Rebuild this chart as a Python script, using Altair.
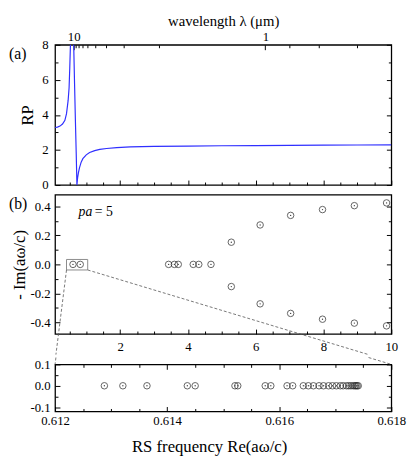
import math
import altair as alt
import pandas as pd

FONT = "'Liberation Serif', 'Times New Roman', serif"
BLUE = "#2f2fff"
TWO_PI = 2 * math.pi

# ---------------- data ----------------
# panel (a): RP versus frequency Re(a w / c), two branches around the resonance
rp_left_f = [0.08, 0.15, 0.225, 0.30, 0.37, 0.418, 0.465, 0.494, 0.514, 0.534, 0.545]
rp_left_v = [3.28, 3.30, 3.36, 3.48, 3.69, 4.07, 4.81, 5.55, 6.67, 8.0, 9.5]
rp_right_f = [0.62, 0.63, 0.655, 0.68, 0.705, 0.725, 0.745, 0.77, 0.80, 0.85, 0.90, 1.0,
              1.1, 1.25, 1.4, 1.6, 1.9, 2.3, 3.0, 4.0, 5.0, 6.0, 7.0, 8.0, 9.0, 10.0]
rp_right_v = [9.5, 8.0, 5.8, 3.7, 1.75, 0.0, 0.40, 0.70, 0.98, 1.30, 1.50, 1.72,
              1.85, 1.96, 2.03, 2.08, 2.13, 2.17, 2.20, 2.22, 2.24, 2.25, 2.26, 2.27, 2.28, 2.29]

# panel (b): resonant states, -Im vs Re
b_re = [0.609, 0.823, 3.43, 3.60, 3.715, 4.157, 4.32, 4.68,
        5.28, 5.28, 6.13, 6.13, 7.03, 7.03, 7.97, 7.97, 8.91, 8.91, 9.86, 9.86]
b_im = [0, 0, 0, 0, 0, 0, 0, 0,
        0.153, -0.153, 0.272, -0.272, 0.338, -0.338, 0.378, -0.378, 0.405, -0.405, 0.424, -0.424]

# inset: zoom of the states close to the resonance
c_re = [0.61288, 0.61321, 0.61364, 0.61436, 0.61450, 0.61521, 0.61526, 0.61575, 0.61585,
        0.61614, 0.61624, 0.61643, 0.61652, 0.61661, 0.61671, 0.61679, 0.61688, 0.61695,
        0.61702, 0.61709, 0.61714, 0.61720, 0.61724, 0.61728, 0.61732, 0.61735, 0.61737,
        0.61739, 0.61741]
c_im = [0.0] * len(c_re)

# tick labels / tick positions
xa_major = [2, 4, 6, 8, 10]
xa_minor = [0.5, 1, 1.5, 2.5, 3, 3.5, 4.5, 5, 5.5, 6.5, 7, 7.5, 8.5, 9, 9.5]
ya_major = [0, 2, 4, 6, 8]
ya_minor = [1, 3, 5, 7]
lam_major = [10, 1]          # wavelength (um), a = 1 um  ->  Re(a w / c) = 2 pi / lambda
lam_minor = [9, 8, 7, 6, 5, 4, 3, 2, 0.9, 0.8, 0.7]
yb_major = [-0.4, -0.2, 0.0, 0.2, 0.4]
yb_minor = [-0.3, -0.1, 0.1, 0.3]
xc_major = [0.612, 0.614, 0.616, 0.618]
xc_minor = [0.6125, 0.613, 0.6135, 0.6145, 0.615, 0.6155, 0.6165, 0.617, 0.6175]
yc_major = [-0.1, 0.0, 0.1]
yc_minor = [-0.05, 0.05]

# box drawn round the first states in (b)
BOX_X0, BOX_X1, BOX_Y0, BOX_Y1 = 0.418, 1.043, -0.0385, 0.034

# ---------------- layout ----------------
W = 343
HA, HB, HC = 143, 142, 48
GAP_BC = 28
STUB = 7
F_MIN, F_MAX = 0.08, 10.0
YA_MIN, YA_MAX = 0.0, 8.0
YB_MIN, YB_MAX = -0.48, 0.48
FC_MIN, FC_MAX = 0.612, 0.618
YC_MIN, YC_MAX = -0.12, 0.10
TAG_DX, TAG_DY = -47, 9
MAJ, MIN = 5, 3

NEG_EXPR = "datum.value < 0 ? '-' + format(-datum.value, '.1f') : format(datum.value, '.1f')"


def tick_axis(orient, offset, values, size):
    return alt.Axis(
        orient=orient, offset=offset, values=values,
        labels=False, domain=False, grid=False, title=None,
        ticks=True, tickColor="black", tickWidth=1, tickSize=size,
    )


def label_axis(orient, values, title=None, label_expr=None, fmt=None, pad=6, title_pad=4,
               title_size=17, **extra):
    kw = dict(orient=orient, values=values, ticks=False, domain=False, grid=False,
              labelPadding=pad, labelFlush=False, labelOverlap=False,
              labelFont=FONT, labelFontSize=13, labelColor="black",
              titleFont=FONT, titleFontSize=title_size, titleFontWeight="normal",
              titleColor="black", titlePadding=title_pad, title=title)
    if label_expr is not None:
        kw["labelExpr"] = label_expr
    if fmt is not None:
        kw["format"] = fmt
    kw.update(extra)
    return alt.Axis(**kw)


def ghost_x(values, sx, sy, ymid, axis):
    df = pd.DataFrame({"t": values, "m": [ymid] * len(values)})
    return alt.Chart(df).mark_point(opacity=0, clip=True).encode(
        x=alt.X("t:Q", scale=sx, axis=axis), y=alt.Y("m:Q", scale=sy, axis=None))


def ghost_y(values, sx, sy, xmid, axis):
    df = pd.DataFrame({"t": values, "m": [xmid] * len(values)})
    return alt.Chart(df).mark_point(opacity=0, clip=True).encode(
        y=alt.Y("t:Q", scale=sy, axis=axis), x=alt.X("m:Q", scale=sx, axis=None))


def inward_x(major, minor, sx, sy, ymid, side, h):
    # side "bottom": ticks rise from the bottom edge; side "top": ticks hang from the top edge
    orient = "top" if side == "bottom" else "bottom"
    return [ghost_x(major, sx, sy, ymid, tick_axis(orient, -h, major, MAJ)),
            ghost_x(minor, sx, sy, ymid, tick_axis(orient, -h, minor, MIN))]


def inward_y(major, minor, sx, sy, xmid, side):
    orient = "right" if side == "left" else "left"
    return [ghost_y(major, sx, sy, xmid, tick_axis(orient, -W, major, MAJ)),
            ghost_y(minor, sx, sy, xmid, tick_axis(orient, -W, minor, MIN))]


def tag(text, sx, sy, x0, x1, y0, y1, h):
    # panel letter placed outside the plot, at a fixed pixel offset from its top-left corner
    tx = x0 + TAG_DX / W * (x1 - x0)
    ty = y1 - TAG_DY / h * (y1 - y0)
    return alt.Chart(pd.DataFrame({"x": [tx], "y": [ty], "t": [text]})).mark_text(
        font=FONT, fontSize=16, align="left", baseline="middle", color="black").encode(
        x=alt.X("x:Q", scale=sx, axis=None), y=alt.Y("y:Q", scale=sy, axis=None), text="t:N")


# ---------------- panel (a) ----------------
dfA = pd.DataFrame({
    "f": rp_left_f + rp_right_f,
    "rp": rp_left_v + rp_right_v,
    "branch": ["L"] * len(rp_left_f) + ["R"] * len(rp_right_f),
})
sc_fa = alt.Scale(domain=[F_MIN, F_MAX], nice=False, zero=False)
sc_rp = alt.Scale(domain=[YA_MIN, YA_MAX], nice=False, zero=False)

lam_major_pos = [TWO_PI / v for v in lam_major]
lam_minor_pos = [TWO_PI / v for v in lam_minor]
LAM_LABEL = "format(round(2 * PI / datum.value), 'd')"

a_line = alt.Chart(dfA).mark_line(color=BLUE, strokeWidth=1.2, clip=True).encode(
    x=alt.X("f:Q", scale=sc_fa, axis=None),
    y=alt.Y("rp:Q", scale=sc_rp, axis=label_axis("left", ya_major, title="RP", pad=7, title_pad=6)),
    detail="branch:N",
)
a_lam_lab = ghost_x(lam_major_pos, sc_fa, sc_rp, 4.0,
                    label_axis("top", lam_major_pos, title="wavelength  λ (μm)",
                               label_expr=LAM_LABEL, pad=1, title_pad=3, title_size=15))
a_tag = tag("(a)", sc_fa, sc_rp, F_MIN, F_MAX, YA_MIN, YA_MAX, HA)

a_layers = ([a_line, a_lam_lab]
            + inward_x(xa_major, xa_minor, sc_fa, sc_rp, 4.0, "bottom", HA)
            + inward_x(lam_major_pos, lam_minor_pos, sc_fa, sc_rp, 4.0, "top", HA)
            + inward_y(ya_major, ya_minor, sc_fa, sc_rp, 5.0, "left")
            + inward_y(ya_major, ya_minor, sc_fa, sc_rp, 5.0, "right")
            + [a_tag])
panel_a = alt.layer(*a_layers).resolve_axis(
    x="independent", y="independent").properties(width=W, height=HA)

# ---------------- panel (b) ----------------
dfB = pd.DataFrame({"re": b_re, "im": b_im})
sc_fb = alt.Scale(domain=[F_MIN, F_MAX], nice=False, zero=False)
sc_im = alt.Scale(domain=[YB_MIN, YB_MAX], nice=False, zero=False)

b_pts = alt.Chart(dfB).mark_point(shape="circle", size=44, filled=False, color="#222",
                                  strokeWidth=1).encode(
    x=alt.X("re:Q", scale=sc_fb, axis=label_axis("bottom", xa_major, pad=7)),
    y=alt.Y("im:Q", scale=sc_im,
            axis=label_axis("left", yb_major, title="- Im(aω/c)", label_expr=NEG_EXPR, pad=5, title_pad=2)),
)
b_dots = alt.Chart(dfB).mark_point(shape="circle", size=2, filled=True, color="#444", opacity=1).encode(
    x=alt.X("re:Q", scale=sc_fb, axis=None), y=alt.Y("im:Q", scale=sc_im, axis=None))

b_box = alt.Chart(pd.DataFrame({"x0": [BOX_X0], "x1": [BOX_X1], "y0": [BOX_Y0], "y1": [BOX_Y1]})).mark_rect(
    fillOpacity=0, stroke="#8a8a8a", strokeWidth=1).encode(
    x=alt.X("x0:Q", scale=sc_fb, axis=None), x2="x1:Q",
    y=alt.Y("y0:Q", scale=sc_im, axis=None), y2="y1:Q")

# invisible spacer a few pixels above (b), to set the gap below (a)
SPACER = 1.5
b_spacer = alt.Chart(pd.DataFrame({"x": [5.0], "y": [YB_MAX],
                                   "y2": [YB_MAX + SPACER / HB * (YB_MAX - YB_MIN)]})).mark_rule(
    opacity=0).encode(x=alt.X("x:Q", scale=sc_fb, axis=None),
                      y=alt.Y("y:Q", scale=sc_im, axis=None), y2="y2:Q")


# connector lines from the box to the inset (split between the two panels)
def b_px(f, v):
    return (f - F_MIN) / (F_MAX - F_MIN) * W, (YB_MAX - v) / (YB_MAX - YB_MIN) * HB


def b_data(px, py):
    return F_MIN + px / W * (F_MAX - F_MIN), YB_MAX - py / HB * (YB_MAX - YB_MIN)


def c_data(px, py):
    return FC_MIN + px / W * (FC_MAX - FC_MIN), YC_MAX - py / HC * (YC_MAX - YC_MIN)


conn_b = {"x": [], "y": [], "x2": [], "y2": []}
conn_c = {"x": [], "y": [], "x2": [], "y2": []}
for (fx, end_px) in [(BOX_X0, 0.0), (BOX_X1, float(W))]:
    px0, py0 = b_px(fx, BOX_Y0)
    py1 = HB + GAP_BC
    pys = py1 - STUB
    t = (pys - py0) / (py1 - py0)
    pxs = px0 + t * (end_px - px0)
    d0, ds = b_data(px0, py0), b_data(pxs, pys)
    conn_b["x"].append(d0[0]); conn_b["y"].append(d0[1])
    conn_b["x2"].append(ds[0]); conn_b["y2"].append(ds[1])
    c0, c1 = c_data(pxs, -STUB), c_data(end_px, 0.0)
    conn_c["x"].append(c0[0]); conn_c["y"].append(c0[1])
    conn_c["x2"].append(c1[0]); conn_c["y2"].append(c1[1])

b_conn = alt.Chart(pd.DataFrame(conn_b)).mark_rule(color="#555", strokeWidth=0.8, strokeDash=[3, 2]).encode(
    x=alt.X("x:Q", scale=sc_fb, axis=None), x2="x2:Q",
    y=alt.Y("y:Q", scale=sc_im, axis=None), y2="y2:Q")

b_pa = alt.Chart(pd.DataFrame({"x": [0.774], "y": [0.36], "t": ["pa"]})).mark_text(
    font=FONT, fontSize=14, fontStyle="italic", align="left", baseline="middle", color="black").encode(
    x=alt.X("x:Q", scale=sc_fb, axis=None), y=alt.Y("y:Q", scale=sc_im, axis=None), text="t:N")
b_eq = alt.Chart(pd.DataFrame({"x": [1.25], "y": [0.36], "t": ["= 5"]})).mark_text(
    font=FONT, fontSize=14, align="left", baseline="middle", color="black").encode(
    x=alt.X("x:Q", scale=sc_fb, axis=None), y=alt.Y("y:Q", scale=sc_im, axis=None), text="t:N")
b_tag = tag("(b)", sc_fb, sc_im, F_MIN, F_MAX, YB_MIN, YB_MAX, HB)

b_layers = ([b_box, b_conn, b_spacer, b_pts, b_dots]
            + inward_x(xa_major, xa_minor, sc_fb, sc_im, 0.0, "bottom", HB)
            + inward_y(yb_major, yb_minor, sc_fb, sc_im, 5.0, "left")
            + inward_y(yb_major, yb_minor, sc_fb, sc_im, 5.0, "right")
            + [b_pa, b_eq, b_tag])
panel_b = alt.layer(*b_layers).resolve_axis(
    x="independent", y="independent").properties(width=W, height=HB)

# ---------------- inset ----------------
dfC = pd.DataFrame({"re": c_re, "im": c_im})
sc_fc = alt.Scale(domain=[FC_MIN, FC_MAX], nice=False, zero=False)
sc_yc = alt.Scale(domain=[YC_MIN, YC_MAX], nice=False, zero=False)

c_pts = alt.Chart(dfC).mark_point(shape="circle", size=44, filled=False, color="#222",
                                  strokeWidth=1).encode(
    x=alt.X("re:Q", scale=sc_fc,
            axis=label_axis("bottom", xc_major, title="RS frequency Re(aω/c)", fmt=".3f", pad=3,
                            title_pad=12, titleX=78, titleAlign="left")),
    y=alt.Y("im:Q", scale=sc_yc, axis=label_axis("left", yc_major, label_expr=NEG_EXPR, pad=5)),
)
c_dots = alt.Chart(dfC).mark_point(shape="circle", size=2, filled=True, color="#444", opacity=1).encode(
    x=alt.X("re:Q", scale=sc_fc, axis=None), y=alt.Y("im:Q", scale=sc_yc, axis=None))
c_conn = alt.Chart(pd.DataFrame(conn_c)).mark_rule(color="#555", strokeWidth=0.8, strokeDash=[3, 2]).encode(
    x=alt.X("x:Q", scale=sc_fc, axis=None), x2="x2:Q",
    y=alt.Y("y:Q", scale=sc_yc, axis=None), y2="y2:Q")

c_layers = ([c_conn, c_pts, c_dots]
            + inward_x(xc_major, xc_minor, sc_fc, sc_yc, 0.0, "bottom", HC)
            + inward_x(xc_major, xc_minor, sc_fc, sc_yc, 0.0, "top", HC)
            + inward_y(yc_major, yc_minor, sc_fc, sc_yc, 0.615, "left")
            + inward_y(yc_major, yc_minor, sc_fc, sc_yc, 0.615, "right"))
panel_c = alt.layer(*c_layers).resolve_axis(
    x="independent", y="independent").properties(width=W, height=HC)

chart = alt.vconcat(panel_a, panel_b, panel_c, spacing=-1).properties(
    padding=0, background="white"
).configure(font=FONT).configure_view(stroke="black", strokeWidth=1.3)

chart.save("out.html", embed_options={"renderer": "svg", "actions": False})
